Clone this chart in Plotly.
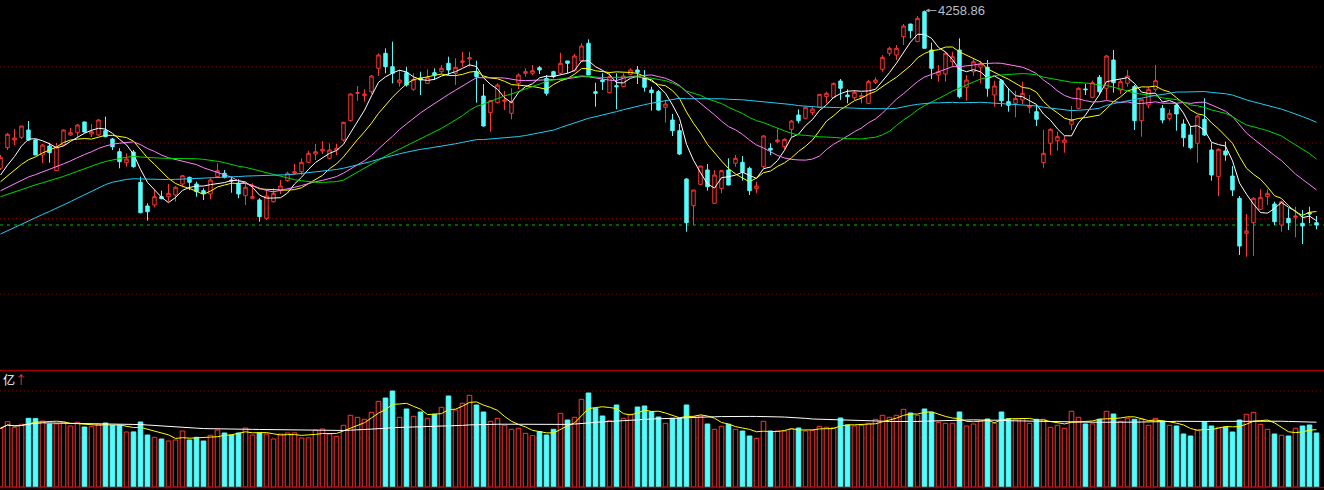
import pandas as pd
import plotly.graph_objects as go

# ---------------- data (index points / 亿) ----------------
open_ = [
    3943.4, 3984.6, 4000, 4005.4, 4020, 4000, 3970, 3988, 3938.6, 3990,
    4010, 4014.6, 4036, 4012, 4010, 4018.6, 4002, 3976.6, 3954.6, 3976,
    3915.4, 3868, 3870, 3886.6, 3886.6, 3890, 3912, 3925.4, 3912, 3898.6,
    3892, 3926.6, 3933.4, 3920, 3913.4, 3888.6, 3883.4, 3880, 3843.4, 3876.6,
    3898.6, 3918.6, 3933.4, 3936.6, 3955.4, 3972, 3978, 3963.4, 3980, 4000,
    4038.6, 4093.4, 4088.6, 4096.6, 4143.4, 4173.4, 4146.6, 4114.6, 4134.6, 4101.4,
    4124, 4113.4, 4134.6, 4136.6, 4153.4, 4133.4, 4155.4, 4162, 4136.6, 4088,
    4054.6, 4074.6, 4077.4, 4053.4, 4113.4, 4133.4, 4133.4, 4144.6, 4123.4, 4136.6,
    4133.4, 4158, 4138.6, 4158.6, 4193.4, 4096.6, 4120, 4094.6, 4108.6, 4106.6,
    4131.4, 4140, 4123.4, 4100, 4096.6, 4065.4, 4040, 4018.6, 3922, 3868.6,
    3911.4, 3940, 3873.4, 3903.4, 3940, 3953.4, 3955.4, 3943.4, 3902.6, 3946.6,
    3983.4, 3996.6, 3986.6, 4021.4, 4050, 4043.4, 4054.6, 4065.4, 4086.6, 4084.6,
    4118, 4090, 4084.6, 4085.4, 4073.4, 4115.4, 4141.4, 4173.4, 4170, 4206.6,
    4232, 4196.6, 4256.6, 4180, 4130, 4132, 4156.6, 4180, 4105.4, 4136.6,
    4145.4, 4145.4, 4090, 4118.6, 4076.6, 4073.4, 4080, 4065.4, 4056.6, 3954.6,
    3993.4, 3998.6, 3994.6, 4031.4, 4063.4, 4102, 4085.4, 4125.4, 4103.4, 4160,
    4100, 4113.4, 4106.6, 4038.6, 4070, 4101.4, 4063.4, 4043.4, 4070, 4032,
    4010, 3993.4, 4041.4, 3980, 3926.6, 3978, 3928, 3883.4, 3813.4, 3834.6,
    3861.4, 3886.6, 3872, 3830, 3843.4, 3845.4, 3833.4, 3854.6, 3834.6,
]
high = [
    3970, 4014, 4022, 4028, 4038, 4002, 3992, 3994, 3994, 4021.4,
    4024, 4032, 4036.6, 4032, 4042, 4046.6, 4004, 3983.4, 3973.4, 3980,
    3926.6, 3873.4, 3901.4, 3898.6, 3912, 3908, 3930, 3926.6, 3916.6, 3903.4,
    3923.4, 3953.4, 3940, 3926, 3921.4, 3912, 3913.4, 3883.4, 3901.4, 3903.4,
    3920, 3936.6, 3952, 3963.4, 3978.6, 3992, 3998, 3993.4, 3992, 4036.6,
    4093.4, 4108, 4101.4, 4130, 4173.4, 4183.4, 4196.6, 4140, 4146.6, 4133.4,
    4136.6, 4141.4, 4143.4, 4150, 4166.6, 4163.4, 4176.6, 4176.6, 4158.6, 4112,
    4080, 4113.4, 4098, 4103.4, 4133.4, 4143.4, 4150, 4148, 4130, 4138.6,
    4174.6, 4158, 4172, 4193.4, 4201.4, 4114.6, 4133.4, 4134.6, 4133.4, 4133.4,
    4143.4, 4148, 4140, 4106.6, 4100, 4080, 4052, 4032, 3923.4, 3900,
    3948, 3952, 3940, 3940, 3963.4, 3970, 3968, 3946.6, 3916.6, 4010,
    3993.4, 4023.4, 4003.4, 4040, 4061.4, 4066.6, 4068, 4092, 4096.6, 4114.6,
    4122, 4101.4, 4100, 4094.6, 4120, 4125.4, 4170, 4186.6, 4190, 4232,
    4232, 4248, 4258.86, 4194.6, 4150, 4176.6, 4176.6, 4203.4, 4130, 4161.4,
    4158, 4160, 4118.6, 4121.4, 4103.4, 4098.6, 4116.6, 4090, 4070, 4020,
    4023.4, 4016.6, 4008, 4068, 4105.4, 4112, 4118.6, 4130, 4170, 4180,
    4121.4, 4140, 4110, 4081.4, 4106.6, 4150, 4070, 4061.4, 4073.4, 4041.4,
    4028, 4050, 4083.4, 3994.6, 3983.4, 3996.6, 3948, 3888, 3852, 3885.4,
    3901.4, 3901.4, 3876.6, 3878.6, 3863.4, 3866.6, 3860, 3866.6, 3848,
]
low = [
    3940, 3980, 3990, 4002, 3998, 3970, 3954, 3954.6, 3938, 3988,
    4008, 4006, 4014.6, 4006, 4008, 4005.4, 3980, 3943.4, 3946.6, 3944.6,
    3853.4, 3838.6, 3865.4, 3881.4, 3876.6, 3876.6, 3905.4, 3900, 3886.6, 3880,
    3881.4, 3925.4, 3923.4, 3894.6, 3883.4, 3870, 3882.6, 3836.6, 3840, 3874.6,
    3892, 3916.6, 3930, 3930, 3953.4, 3960, 3972, 3961.4, 3970, 3996.6,
    4036.6, 4078.6, 4076.6, 4092, 4128, 4133.4, 4113.4, 4106.6, 4106.6, 4098.6,
    4090, 4112, 4120, 4133.4, 4130, 4110, 4146.6, 4146.6, 4074.6, 4026.6,
    4016.6, 4073.4, 4060, 4041.4, 4101.4, 4126.6, 4130, 4132, 4088.6, 4123.4,
    4130, 4133.4, 4136.6, 4156.6, 4130, 4066.6, 4100, 4093.4, 4061.4, 4105.4,
    4130, 4112, 4096.6, 4058.6, 4058.6, 4034.6, 4008, 3970, 3816.6, 3830,
    3910, 3898.6, 3872.6, 3893.4, 3909.4, 3946.6, 3918.6, 3890, 3893.4, 3943.4,
    3970, 3993.4, 3981.4, 4006.6, 4033.4, 4041.4, 4050, 4063.4, 4073.4, 4083.4,
    4080, 4073.4, 4080, 4073.4, 4072, 4112, 4136.6, 4168, 4160, 4190,
    4203.4, 4196.6, 4183.4, 4122, 4116.6, 4116.6, 4146.6, 4083.4, 4078.6, 4128,
    4113.4, 4086.6, 4066.6, 4066.6, 4056.6, 4045.4, 4072, 4053.4, 4028, 3944.6,
    3970, 3978.6, 3974.6, 4020, 4061.4, 4090, 4083.4, 4090, 4080, 4094.6,
    4092, 4106.6, 4020, 4006.6, 4063.4, 4096.6, 4033.4, 4038.6, 4018.6, 3986.6,
    3981.4, 3954.6, 4008, 3918.6, 3888, 3958.6, 3888, 3770, 3766.6, 3768,
    3860, 3870, 3830, 3816.6, 3820, 3805.4, 3792, 3833.4, 3821.4,
]
close = [
    3965.4, 4011.4, 4004, 4028, 4000, 3970, 3990, 3974.6, 3986.6, 4020,
    4014.6, 4030, 4016, 4016.6, 4040, 4006.6, 3986.6, 3956.6, 3962, 3946.6,
    3854.6, 3856.6, 3886.6, 3882.6, 3893.4, 3905.4, 3928.6, 3915.4, 3896.6, 3893.4,
    3920, 3938.6, 3925.4, 3918, 3892, 3905.4, 3886.6, 3846.6, 3888, 3893.4,
    3908, 3933.4, 3936.6, 3955.4, 3973.4, 3976.6, 3981.4, 3980, 3983.4, 4035.4,
    4092, 4094.6, 4092, 4128, 4170, 4146.6, 4133.4, 4120, 4110, 4121.4,
    4120, 4124.6, 4130, 4143.4, 4140, 4145.4, 4158, 4164.6, 4126.6, 4028,
    4078.6, 4110, 4080, 4076.6, 4130, 4136.6, 4138.6, 4140, 4093.4, 4126.6,
    4153.4, 4153.4, 4168, 4188, 4130, 4093.4, 4116.6, 4126.6, 4106.6, 4128,
    4140, 4135.4, 4105.4, 4094.6, 4060, 4072, 4018.6, 3972, 3834.6, 3900,
    3948, 3906.6, 3930, 3938.6, 3910, 3963.4, 3935.4, 3898.6, 3908, 4008,
    3980, 4000, 4001.4, 4038, 4038.6, 4065.4, 4062, 4091.4, 4093.4, 4113.4,
    4103.4, 4086.6, 4095.4, 4088.6, 4116.6, 4120, 4165.4, 4183.4, 4183.4, 4228,
    4218.6, 4243.4, 4183.4, 4143.4, 4136.6, 4173.4, 4166.6, 4086.6, 4120, 4156.6,
    4152, 4103.4, 4108, 4078.6, 4069.4, 4083.4, 4093.4, 4068, 4041.4, 3973.4,
    4021.4, 4006.6, 4000, 4040, 4103.4, 4100.6, 4114.6, 4096.6, 4168, 4114.6,
    4116.6, 4128, 4038.6, 4081.4, 4101.4, 4118.6, 4040, 4053.4, 4052, 4004.6,
    3984.6, 4048, 4010, 3930, 3981.4, 3970, 3900, 3788, 3818, 3883.4,
    3885.4, 3893.4, 3836.6, 3876.6, 3834.6, 3848, 3828, 3852, 3830,
]
volume = [
    3522, 3918, 3558, 3762, 4122, 4104, 3960, 3780, 3786, 3900,
    3660, 3882, 3600, 3618, 3762, 3840, 3702, 3696, 3300, 3306,
    3900, 3120, 2982, 2880, 2760, 2820, 3360, 2820, 2982, 2760,
    3102, 3420, 3240, 3120, 3240, 3540, 3120, 3240, 3180, 2880,
    3180, 3240, 3246, 2940, 2946, 3420, 3480, 3180, 3042, 3702,
    4302, 4182, 4062, 4482, 5142, 5340, 5760, 4182, 4680, 4242,
    4500, 4122, 4362, 4782, 5460, 4620, 5022, 5502, 4920, 4500,
    3942, 4122, 3702, 3462, 3522, 3222, 3078, 3318, 3120, 3462,
    4422, 4020, 4182, 5262, 5640, 4722, 4260, 3978, 4920, 4122,
    4362, 4800, 4860, 4518, 4200, 3822, 4122, 4116, 4920, 4218,
    4260, 3780, 3462, 3642, 3762, 3462, 3360, 3060, 2922, 3942,
    3360, 3366, 3354, 3480, 3540, 3360, 3402, 3642, 3582, 3558,
    4140, 3720, 3660, 3702, 3822, 4062, 4302, 4182, 4302, 4662,
    4440, 4302, 4680, 4482, 3882, 3822, 3828, 4500, 3660, 3780,
    3960, 4080, 3822, 4500, 4098, 4062, 4098, 3822, 4062, 4062,
    3582, 3702, 3522, 4542, 4182, 3780, 3786, 4062, 4542, 4380,
    3942, 4122, 4062, 4080, 3702, 4122, 3960, 3702, 3660, 3180,
    3060, 3420, 3918, 3660, 3582, 3588, 3300, 4020, 4362, 4482,
    3762, 3462, 3180, 3102, 3060, 3522, 3660, 3720, 3240,
]
# closes before the first visible day (implied by the moving averages at the left edge)
prior_close = [
    3604, 3616, 3608, 3620, 3610, 3600, 3614, 3624, 3608, 3604, 3618, 3612, 3606, 3620, 3616,
    3700, 3760, 3820, 3870,
    3884, 3896, 3904, 3888, 3900, 3880, 3892, 3884, 3896, 3888, 3878,
    3870, 3860, 3856, 3864, 3852, 3868, 3860, 3872, 3864, 3860,
    3868, 3874, 3872, 3880, 3876, 3884, 3882, 3888, 3886, 3896,
    3892, 3900, 3904, 3908, 3912,
    3912, 3918, 3924, 3930,
]
ma_periods = [5, 10, 20, 30, 60]
vol_ma_periods = [5, 60]
grid_levels = [4146, 3994, 3843, 3692]
vol_grid_levels = [5760, 2940]

# ---------------- styling ----------------
RED = "#ff3434"
CYAN = "#54fcfc"
MA_COLORS = {5: "#ffffff", 10: "#ffff00", 20: "#ff80ff", 30: "#00d800", 60: "#22cdf2"}
VMA_COLORS = {5: "#ffff00", 60: "#ffffff"}
DARKRED = "#8c0000"

n = len(close)
x = list(range(n))
W, H = 1324, 490
STEP = 7.0
x_range = [-0.5 / STEP, (W - 0.5) / STEP]

main_top_px, main_bot_px = 0, 369
vol_top_px, vol_bot_px = 370, 487
main_domain = [1 - main_bot_px / H, 1 - main_top_px / H]
vol_domain = [1 - vol_bot_px / H, 1 - vol_top_px / H]
price_per_px = 2.0
y_top = 4280.0
main_range = [y_top - price_per_px * (main_bot_px - main_top_px), y_top]
vol_per_px = 60.0
vol_range = [0, vol_per_px * (vol_bot_px - vol_top_px)]

fig = go.Figure()

fig.add_trace(go.Candlestick(
    x=x, open=open_, high=high, low=low, close=close,
    increasing=dict(line=dict(color=RED, width=1), fillcolor="#000000"),
    decreasing=dict(line=dict(color=CYAN, width=1), fillcolor=CYAN),
    whiskerwidth=0, showlegend=False, hoverinfo="skip",
))

all_close = pd.Series(prior_close + close, dtype=float)
for p in ma_periods:
    ma = all_close.rolling(p).mean().iloc[len(prior_close):].tolist()
    fig.add_trace(go.Scatter(x=x, y=ma, mode="lines",
                             line=dict(color=MA_COLORS[p], width=1),
                             showlegend=False, hoverinfo="skip"))

up = [c > o for o, c in zip(open_, close)]
fig.add_trace(go.Bar(
    x=x, y=volume, yaxis="y2", width=0.66,
    marker=dict(color=["#000000" if u else CYAN for u in up],
                line=dict(color=[RED if u else CYAN for u in up], width=1)),
    showlegend=False, hoverinfo="skip",
))
vol_s = pd.Series(volume, dtype=float)
for p in vol_ma_periods:
    vma = vol_s.rolling(p, min_periods=1).mean().tolist()
    fig.add_trace(go.Scatter(x=x, y=vma, yaxis="y2", mode="lines",
                             line=dict(color=VMA_COLORS[p], width=1),
                             showlegend=False, hoverinfo="skip"))

shapes = []
for g in grid_levels:
    shapes.append(dict(type="line", xref="paper", x0=0, x1=1, yref="y", y0=g, y1=g,
                       line=dict(color=DARKRED, width=1, dash="1px,3px"), layer="below"))
for g in vol_grid_levels:
    shapes.append(dict(type="line", xref="paper", x0=0, x1=1, yref="y2", y0=g, y1=g,
                       line=dict(color=DARKRED, width=1, dash="1px,3px"), layer="below"))
shapes.append(dict(type="line", xref="paper", x0=0, x1=1, yref="y", y0=close[-1], y1=close[-1],
                   line=dict(color="#00c000", width=1, dash="3px,4px"), layer="below"))
for py in (vol_top_px + 0.5, vol_bot_px + 0.5):
    shapes.append(dict(type="line", xref="paper", x0=0, x1=1, yref="paper",
                       y0=1 - py / H, y1=1 - py / H,
                       line=dict(color="#a00000", width=1.5)))

imax = max(range(n), key=lambda i: high[i])
annotations = [
    dict(x=imax, y=high[imax], xref="x", yref="y", text=f"{high[imax]:.2f}",
         showarrow=True, ax=37, ay=0, arrowhead=2, arrowsize=0.8, arrowwidth=1,
         arrowcolor="#a8a8a8", standoff=1,
         font=dict(family="Liberation Sans, Arial", size=13, color="#b8bcc8")),
    dict(x=0, y=1 - 379 / H, xref="paper", yref="paper", xanchor="left", yanchor="middle",
         showarrow=False, xshift=1,
         text="亿<span style='color:#ff3434'>↑</span>",
         font=dict(family="Noto Sans CJK SC", size=12, color="#ffffff")),
]

axis_off = dict(showgrid=False, zeroline=False, showticklabels=False, showline=False,
                ticks="", fixedrange=True)
fig.update_layout(
    width=W, height=H,
    margin=dict(l=0, r=0, t=0, b=0),
    paper_bgcolor="#000000", plot_bgcolor="#000000",
    hovermode=False, showlegend=False,
    xaxis=dict(range=x_range, rangeslider=dict(visible=False), **axis_off),
    yaxis=dict(domain=main_domain, range=main_range, **axis_off),
    yaxis2=dict(domain=vol_domain, range=vol_range, anchor="x", **axis_off),
    shapes=shapes, annotations=annotations,
)

fig.write_html(
    "out.html",
    config={"displayModeBar": False, "staticPlot": True},
    post_script="document.body.style.margin='0';document.body.style.padding='0';"
                "document.body.style.background='#000';"
                "document.documentElement.style.overflow='hidden';",
)
